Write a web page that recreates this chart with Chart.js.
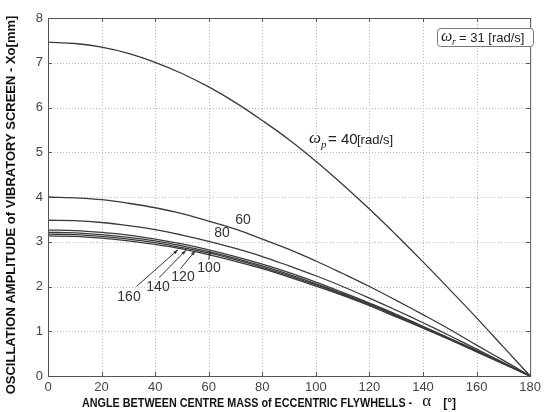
<!DOCTYPE html>
<html>
<head>
<meta charset="utf-8">
<script src="https://cdn.jsdelivr.net/npm/chart.js@4.4.1/dist/chart.umd.min.js"></script>
<style>
  html, body { margin: 0; padding: 0; background: #fff; }
  #wrap { width: 545px; height: 412px; }
</style>
</head>
<body>
<div id="wrap"><canvas id="chart" width="545" height="412"></canvas></div>
<script>
// angle alpha [deg]
const angles = [0, 10, 20, 30, 40, 50, 60, 70, 80, 90, 100, 110, 120, 130, 140, 150, 160, 170, 180];

// amplitude Xo [mm] per omega_p
const xo40  = [7.46, 7.43, 7.35, 7.21, 7.01, 6.76, 6.46, 6.11, 5.71, 5.28, 4.80, 4.28, 3.73, 3.15, 2.55, 1.93, 1.30, 0.65, 0];
const xo60  = [4.00, 3.98, 3.94, 3.86, 3.76, 3.63, 3.46, 3.28, 3.06, 2.83, 2.57, 2.29, 2.00, 1.69, 1.37, 1.04, 0.69, 0.35, 0];
const xo80  = [3.48, 3.47, 3.43, 3.36, 3.27, 3.15, 3.01, 2.85, 2.67, 2.46, 2.24, 2.00, 1.74, 1.47, 1.19, 0.90, 0.60, 0.30, 0];
const xo100 = [3.26, 3.25, 3.21, 3.15, 3.06, 2.95, 2.82, 2.67, 2.50, 2.31, 2.10, 1.87, 1.63, 1.38, 1.11, 0.84, 0.57, 0.28, 0];
const xo120 = [3.21, 3.20, 3.16, 3.10, 3.02, 2.91, 2.78, 2.63, 2.46, 2.27, 2.06, 1.84, 1.61, 1.36, 1.10, 0.83, 0.56, 0.28, 0];
const xo140 = [3.17, 3.16, 3.12, 3.06, 2.98, 2.87, 2.75, 2.60, 2.43, 2.24, 2.04, 1.82, 1.59, 1.34, 1.08, 0.82, 0.55, 0.28, 0];
const xo160 = [3.13, 3.12, 3.08, 3.02, 2.94, 2.84, 2.71, 2.56, 2.40, 2.21, 2.01, 1.80, 1.57, 1.32, 1.07, 0.81, 0.54, 0.27, 0];

const xTicks = [0, 20, 40, 60, 80, 100, 120, 140, 160, 180];
const yTicks = [0, 1, 2, 3, 4, 5, 6, 7, 8];

const FONT = '"Liberation Sans Narrow", "Arial Narrow", "Liberation Sans", Arial, sans-serif';
const lineColor = '#3a3a3a';

function serie(label, values) {
    return {
        label: label,
        data: angles.map((a, i) => ({ x: a, y: values[i] })),
        borderColor: lineColor,
        borderWidth: 1.3,
        pointRadius: 0,
        fill: false,
        tension: 0.4
    };
}

// curve labels; the lower ones carry a leader arrow, from/to in data units
const curveLabels = [
    { text: '60', x: 243, y: 220 },
    { text: '80', x: 222, y: 233 },
    { text: '100', x: 209, y: 268, from: [60, 2.60], to: [60.5, 2.80] },
    { text: '120', x: 183, y: 277, from: [49.5, 2.40], to: [55, 2.80] },
    { text: '140', x: 158, y: 287, from: [41.5, 2.20], to: [51.5, 2.81] },
    { text: '160', x: 129, y: 297, from: [33, 2.00], to: [48.5, 2.82] }
];

// texte condense (pas de police "narrow" sous la main)
function texteEtroit(ctx, txt, x, y, k) {
    ctx.save();
    ctx.translate(x, y);
    ctx.scale(k, 1);
    ctx.fillText(txt, 0, 0);
    ctx.restore();
    return ctx.measureText(txt).width * k;
}

// dotted grid under the curves
const grille = {
    id: 'grille',
    beforeDatasetsDraw(chart) {
        const ctx = chart.ctx;
        const a = chart.chartArea;
        const xs = chart.scales.x, ys = chart.scales.y;
        ctx.save();
        ctx.strokeStyle = '#b8b8b8';
        ctx.lineWidth = 1;
        ctx.setLineDash([1, 2]);
        ctx.beginPath();
        xTicks.slice(1, -1).forEach(v => {
            const px = Math.round(xs.getPixelForValue(v)) + 0.5;
            ctx.moveTo(px, a.top); ctx.lineTo(px, a.bottom);
        });
        yTicks.slice(1, -1).forEach(v => {
            const py = Math.round(ys.getPixelForValue(v)) + 0.5;
            ctx.moveTo(a.left, py); ctx.lineTo(a.right, py);
        });
        ctx.stroke();
        ctx.restore();
    }
};

const decor = {
    id: 'decor',
    afterDraw(chart) {
        const ctx = chart.ctx;
        const a = chart.chartArea;
        const xs = chart.scales.x, ys = chart.scales.y;
        ctx.save();

        // frame
        ctx.strokeStyle = '#555';
        ctx.lineWidth = 1;
        ctx.strokeRect(a.left + 0.5, a.top + 0.5, a.right - a.left, a.bottom - a.top);

        // inward tick marks
        ctx.beginPath();
        xTicks.forEach(v => {
            const px = Math.round(xs.getPixelForValue(v)) + 0.5;
            ctx.moveTo(px, a.bottom); ctx.lineTo(px, a.bottom - 4);
            ctx.moveTo(px, a.top); ctx.lineTo(px, a.top + 4);
        });
        yTicks.forEach(v => {
            const py = Math.round(ys.getPixelForValue(v)) + 0.5;
            ctx.moveTo(a.left, py); ctx.lineTo(a.left + 4, py);
            ctx.moveTo(a.right, py); ctx.lineTo(a.right - 4, py);
        });
        ctx.stroke();

        // axis titles
        ctx.fillStyle = '#111';
        ctx.font = 'bold 13px ' + FONT;
        ctx.textBaseline = 'middle';
        ctx.textAlign = 'center';
        ctx.save();
        ctx.translate(11, 205);
        ctx.rotate(-Math.PI / 2);
        ctx.fillText('OSCILLATION AMPLITUDE of VIBRATORY SCREEN - Xo[mm]', 0, 0);
        ctx.restore();

        ctx.textAlign = 'left';
        ctx.font = 'bold 12px ' + FONT;
        let w = texteEtroit(ctx, 'ANGLE BETWEEN CENTRE MASS of ECCENTRIC FLYWHELLS -', 82, 404, 0.9);
        ctx.font = '17px "Liberation Serif", "Times New Roman", serif';
        ctx.fillText('\u03B1', 82 + w + 10, 402);
        ctx.font = 'bold 12px ' + FONT;
        ctx.fillText('[\u00B0]', 82 + w + 31, 404);

        // curve labels and arrows
        ctx.font = '14px ' + FONT;
        ctx.fillStyle = '#333';
        ctx.textAlign = 'center';
        curveLabels.forEach(l => {
            ctx.fillText(l.text, l.x, l.y);
            if (l.from) {
                const x0 = xs.getPixelForValue(l.from[0]), y0 = ys.getPixelForValue(l.from[1]);
                const x1 = xs.getPixelForValue(l.to[0]), y1 = ys.getPixelForValue(l.to[1]);
                ctx.strokeStyle = '#333';
                ctx.lineWidth = 1;
                ctx.beginPath();
                ctx.moveTo(x0, y0); ctx.lineTo(x1, y1);
                ctx.stroke();
                const ang = Math.atan2(y1 - y0, x1 - x0);
                ctx.beginPath();
                ctx.moveTo(x1, y1);
                ctx.lineTo(x1 - 5 * Math.cos(ang - 0.35), y1 - 5 * Math.sin(ang - 0.35));
                ctx.lineTo(x1 - 5 * Math.cos(ang + 0.35), y1 - 5 * Math.sin(ang + 0.35));
                ctx.closePath();
                ctx.fill();
            }
        });

        // omega_p label
        ctx.textAlign = 'left';
        ctx.fillStyle = '#222';
        ctx.font = 'italic 17px "Liberation Serif", "Times New Roman", serif';
        ctx.fillText('\u03C9', 309, 139);
        ctx.font = 'italic 11px "Liberation Serif", serif';
        ctx.fillText('p', 321, 145);
        ctx.font = '15px ' + FONT;
        ctx.fillText('= 40', 328, 140);
        ctx.font = '13px ' + FONT;
        ctx.fillText('[rad/s]', 357, 140);

        // omega_r box
        ctx.fillStyle = '#fff';
        ctx.strokeStyle = '#777';
        ctx.lineWidth = 1;
        ctx.beginPath();
        ctx.roundRect(437.5, 28.5, 96, 18, 3);
        ctx.fill();
        ctx.stroke();
        ctx.fillStyle = '#222';
        ctx.font = 'italic 16px "Liberation Serif", "Times New Roman", serif';
        ctx.fillText('\u03C9', 441, 37);
        ctx.font = 'italic 10px "Liberation Serif", serif';
        ctx.fillText('r', 452, 42);
        ctx.font = '13px ' + FONT;
        ctx.fillText('= 31 [rad/s]', 459, 38);

        ctx.restore();
    }
};

new Chart(document.getElementById('chart'), {
    type: 'line',
    data: {
        datasets: [
            serie('40', xo40), serie('60', xo60), serie('80', xo80),
            serie('100', xo100), serie('120', xo120), serie('140', xo140), serie('160', xo160)
        ]
    },
    options: {
        responsive: false,
        animation: false,
        layout: { padding: { left: 0, right: 10, top: 18, bottom: 0 } },
        plugins: { legend: { display: false }, tooltip: { enabled: false } },
        scales: {
            x: {
                type: 'linear', min: 0, max: 180,
                afterFit: s => { s.height = 36; },
                afterBuildTicks: s => { s.ticks = xTicks.map(v => ({ value: v })); },
                grid: { display: false, drawTicks: false, tickLength: 0 },
                border: { display: false },
                ticks: { padding: 4, color: '#444', font: { family: FONT, size: 13 }, maxRotation: 0 }
            },
            y: {
                type: 'linear', min: 0, max: 8,
                afterFit: s => { s.width = 48; },
                afterBuildTicks: s => { s.ticks = yTicks.map(v => ({ value: v })); },
                grid: { display: false, drawTicks: false, tickLength: 0 },
                border: { display: false },
                ticks: { padding: 5, color: '#444', font: { family: FONT, size: 13 } }
            }
        }
    },
    plugins: [grille, decor]
});
</script>
</body>
</html>
